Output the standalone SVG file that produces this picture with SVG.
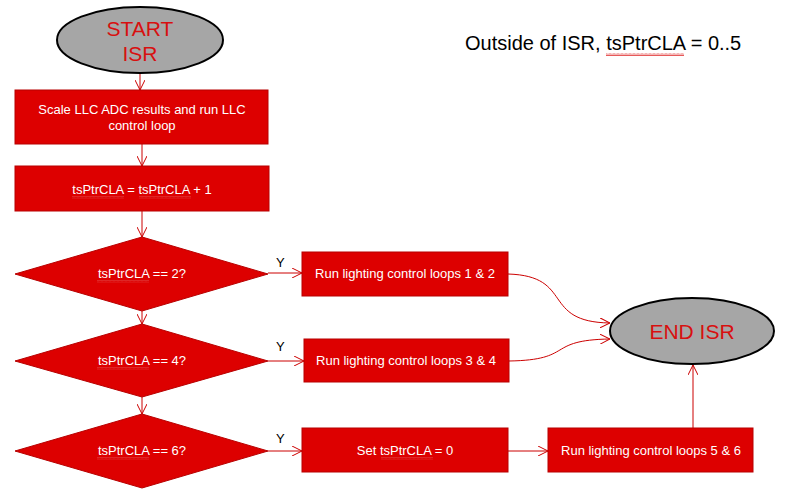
<svg xmlns="http://www.w3.org/2000/svg" width="786" height="497" viewBox="0 0 786 497">
  <style>
    .box { fill: #dd0000; stroke: #b80000; stroke-width: 1; }
    .term { fill: #a6a6a6; stroke: #000; stroke-width: 2; }
    .wt { font-family: "Liberation Sans", Arial, sans-serif; font-size: 13px; fill: #fff; text-anchor: middle; }
    .rt { font-family: "Liberation Sans", Arial, sans-serif; font-size: 21px; fill: #d81010; text-anchor: middle; }
    .bt { font-family: "Liberation Sans", Arial, sans-serif; font-size: 13px; fill: #000; }
    .conn { fill: none; stroke: #cc0000; stroke-width: 1; marker-end: url(#arr); }
    .sq { fill: url(#squig); }
  </style>
  <defs>
    <marker id="arr" viewBox="0 0 10 10" refX="10" refY="5" markerWidth="10" markerHeight="10" markerUnits="userSpaceOnUse" orient="auto">
      <path d="M0,0 L10,5 L0,10" fill="none" stroke="#cc0000" stroke-width="1"/>
    </marker>
    <pattern id="squig" width="4" height="3" patternUnits="userSpaceOnUse">
      <path d="M0,2.5 L1,0.5 L2,2.5 L3,0.5 L4,2.5" fill="none" stroke="#e03030" stroke-width="0.8"/>
    </pattern>
  </defs>

  <g id="connectors">
    <line class="conn" x1="140" y1="73" x2="140" y2="90"/>
    <line class="conn" x1="142" y1="144" x2="142" y2="166"/>
    <line class="conn" x1="142" y1="211" x2="142" y2="237"/>
    <line class="conn" x1="142" y1="311" x2="142" y2="324"/>
    <line class="conn" x1="142" y1="397" x2="142" y2="414"/>
    <line class="conn" x1="268" y1="273" x2="302" y2="273"/>
    <line class="conn" x1="268" y1="361" x2="304" y2="361"/>
    <line class="conn" x1="268" y1="451" x2="302" y2="451"/>
    <line class="conn" x1="508" y1="451" x2="548" y2="451"/>
    <line class="conn" x1="693" y1="428" x2="693" y2="365"/>
    <path class="conn" d="M508,274 C575,276 540,322 610,323"/>
    <path class="conn" d="M509,361 C575,360 545,340 610,339"/>
    <text class="bt" x="276" y="267">Y</text>
    <text class="bt" x="276" y="351">Y</text>
    <text class="bt" x="276" y="443">Y</text>
  </g>

  <g id="start">
    <ellipse class="term" cx="140" cy="40" rx="83" ry="33"/>
    <text class="rt" x="140" y="36">START</text>
    <text class="rt" x="140" y="61">ISR</text>
  </g>

  <g id="scale">
    <rect class="box" x="15" y="90" width="253" height="54"/>
    <text class="wt" x="142" y="114">Scale LLC ADC results and run LLC</text>
    <text class="wt" x="142" y="130">control loop</text>
  </g>

  <g id="increment">
    <rect class="box" x="15" y="166" width="254" height="45"/>
    <text class="wt" x="142" y="194">tsPtrCLA = tsPtrCLA + 1</text>
    <rect class="sq" x="72" y="196" width="52" height="3"/>
    <rect class="sq" x="139" y="196" width="52" height="3"/>
  </g>

  <g id="dec2">
    <polygon class="box" points="142,237 268,274 142,311 15,274"/>
    <text class="wt" x="142" y="278">tsPtrCLA == 2?</text>
    <rect class="sq" x="97" y="280" width="52" height="3"/>
  </g>

  <g id="dec4">
    <polygon class="box" points="142,324 268,361 142,397 15,361"/>
    <text class="wt" x="142" y="365">tsPtrCLA == 4?</text>
    <rect class="sq" x="97" y="367" width="52" height="3"/>
  </g>

  <g id="dec6">
    <polygon class="box" points="142,414 268,451 142,488 15,451"/>
    <text class="wt" x="142" y="455">tsPtrCLA == 6?</text>
    <rect class="sq" x="97" y="457" width="52" height="3"/>
  </g>

  <g id="run12">
    <rect class="box" x="302" y="252" width="206" height="44"/>
    <text class="wt" x="405" y="278">Run lighting control loops 1 &amp; 2</text>
  </g>

  <g id="run34">
    <rect class="box" x="304" y="339" width="205" height="43"/>
    <text class="wt" x="406" y="365">Run lighting control loops 3 &amp; 4</text>
  </g>

  <g id="reset">
    <rect class="box" x="302" y="428" width="206" height="44"/>
    <text class="wt" x="405" y="455">Set tsPtrCLA = 0</text>
    <rect class="sq" x="381" y="457" width="52" height="3"/>
  </g>

  <g id="run56">
    <rect class="box" x="548" y="428" width="205" height="44"/>
    <text class="wt" x="651" y="455">Run lighting control loops 5 &amp; 6</text>
  </g>

  <g id="end">
    <ellipse class="term" cx="692" cy="331" rx="82" ry="33"/>
    <text class="rt" x="692" y="339">END ISR</text>
  </g>

  <g id="note">
    <text x="465" y="50" font-family="Liberation Sans, Arial, sans-serif" font-size="20" fill="#000">Outside of ISR, tsPtrCLA = 0..5</text>
    <rect class="sq" x="606" y="53" width="78" height="3"/>
  </g>
</svg>
